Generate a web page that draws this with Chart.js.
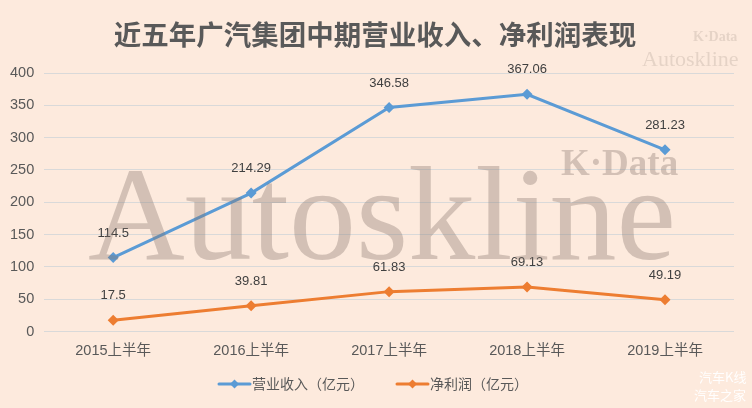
<!DOCTYPE html>
<html>
<head>
<meta charset="utf-8">
<script src="https://cdn.jsdelivr.net/npm/chart.js@4.4.1/dist/chart.umd.min.js"></script>
<style>
    html, body { margin: 0; padding: 0; background: #fdeadd; }
    #wrap { width: 752px; height: 408px; position: relative; }
</style>
</head>
<body>
<div id="wrap"><canvas id="gacChart" width="752" height="408"></canvas></div>
<script>
// 数据
const chartTitle = '近五年广汽集团中期营业收入、净利润表现';
const years = ['2015上半年', '2016上半年', '2017上半年', '2018上半年', '2019上半年'];
const revenue = [114.5, 214.29, 346.58, 367.06, 281.23];
const netProfit = [17.5, 39.81, 61.83, 69.13, 49.19];
const yTicks = [0, 50, 100, 150, 200, 250, 300, 350, 400];

const cjkFont = '"Liberation Sans", "Noto Sans CJK SC", Arial, sans-serif';
const serif = '"Liberation Serif", "DejaVu Serif", serif';

// title drawn by hand so it can sit a bit right of the plot centre
const titlePlugin = {
    id: 'titlePlugin',
    afterDraw(chart) {
        const ctx = chart.ctx;
        ctx.save();
        ctx.font = 'bold 27.5px "Noto Sans CJK SC", sans-serif';
        ctx.fillStyle = '#595959';
        ctx.textAlign = 'center';
        ctx.textBaseline = 'middle';
        ctx.fillText(chartTitle, 375, 35);
        ctx.restore();
    }
};

// data labels above each point
const pointLabels = {
    id: 'pointLabels',
    afterDatasetsDraw(chart) {
        const ctx = chart.ctx;
        ctx.save();
        ctx.font = '13px "Liberation Sans", Arial, sans-serif';
        ctx.fillStyle = '#404040';
        ctx.textAlign = 'center';
        ctx.textBaseline = 'middle';
        chart.data.datasets.forEach((ds, i) => {
            chart.getDatasetMeta(i).data.forEach((pt, j) => {
                ctx.fillText(String(ds.data[j]), pt.x, pt.y - 24.5);
            });
        });
        ctx.restore();
    }
};

// legend like excel: line with diamond in the middle
const lineLegend = {
    id: 'lineLegend',
    afterDraw(chart) {
        const ctx = chart.ctx;
        const y = 384;
        const starts = [219, 397];
        ctx.save();
        ctx.font = '14px "Noto Sans CJK SC", sans-serif';
        ctx.textBaseline = 'middle';
        ctx.textAlign = 'left';
        chart.data.datasets.forEach((ds, i) => {
            const x = starts[i];
            ctx.strokeStyle = ds.borderColor;
            ctx.lineWidth = 3;
            ctx.lineCap = 'round';
            ctx.beginPath();
            ctx.moveTo(x, y);
            ctx.lineTo(x + 31, y);
            ctx.stroke();
            ctx.fillStyle = ds.borderColor;
            ctx.beginPath();
            ctx.moveTo(x + 15.5, y - 4.5);
            ctx.lineTo(x + 20, y);
            ctx.lineTo(x + 15.5, y + 4.5);
            ctx.lineTo(x + 11, y);
            ctx.closePath();
            ctx.fill();
            ctx.fillStyle = '#595959';
            ctx.fillText(ds.label, x + 33, y);
        });
        ctx.restore();
    }
};

// watermarks
const watermark = {
    id: 'watermark',
    afterDatasetsDraw(chart) {
        const ctx = chart.ctx;
        ctx.save();
        ctx.textBaseline = 'alphabetic';
        ctx.textAlign = 'left';
        ctx.fillStyle = 'rgba(135, 118, 110, 0.36)';
        ctx.font = '134px ' + serif;
        ctx.fillText('Autoskline', 88, 259);
        ctx.font = 'bold 37px ' + serif;
        ctx.fillText('K·Data', 561, 175);
        ctx.fillStyle = 'rgba(135, 118, 110, 0.2)';
        ctx.font = '22px ' + serif;
        ctx.fillText('Autoskline', 642, 66);
        ctx.font = 'bold 14px ' + serif;
        ctx.fillText('K·Data', 693, 41);
        ctx.fillStyle = 'rgba(255, 255, 255, 0.95)';
        ctx.font = '13px "Noto Sans CJK SC", sans-serif';
        ctx.fillText('汽车K线', 699, 382);
        ctx.fillText('汽车之家', 694, 400);
        ctx.restore();
    }
};

const ctx = document.getElementById('gacChart').getContext('2d');
new Chart(ctx, {
    type: 'line',
    data: {
        labels: years,
        datasets: [{
            label: '营业收入（亿元）',
            data: revenue,
            borderColor: '#5b9bd5',
            backgroundColor: '#5b9bd5',
            borderWidth: 3,
            tension: 0,
            pointStyle: 'rectRot',
            pointRadius: 5.5,
            pointBorderWidth: 0
        }, {
            label: '净利润（亿元）',
            data: netProfit,
            borderColor: '#ed7d31',
            backgroundColor: '#ed7d31',
            borderWidth: 3,
            tension: 0,
            pointStyle: 'rectRot',
            pointRadius: 5.5,
            pointBorderWidth: 0
        }]
    },
    options: {
        responsive: false,
        animation: false,
        devicePixelRatio: 1,
        layout: { padding: { left: 0, right: 18, top: 73, bottom: 45 } },
        scales: {
            x: {
                offset: true,
                grid: { display: false },
                border: { display: false },
                ticks: { color: '#595959', font: { family: cjkFont, size: 14.5 }, padding: 3 }
            },
            y: {
                min: 0,
                max: 400,
                afterBuildTicks: axis => { axis.ticks = yTicks.map(v => ({ value: v })); },
                grid: { color: '#d9d9d9', drawTicks: false },
                border: { display: false },
                ticks: { color: '#595959', font: { family: '"Liberation Sans", Arial, sans-serif', size: 14.5 }, padding: 10 }
            }
        },
        plugins: {
            title: { display: false },
            legend: { display: false },
            tooltip: { enabled: false }
        }
    },
    plugins: [pointLabels, watermark, lineLegend, titlePlugin]
});
</script>
</body>
</html>
